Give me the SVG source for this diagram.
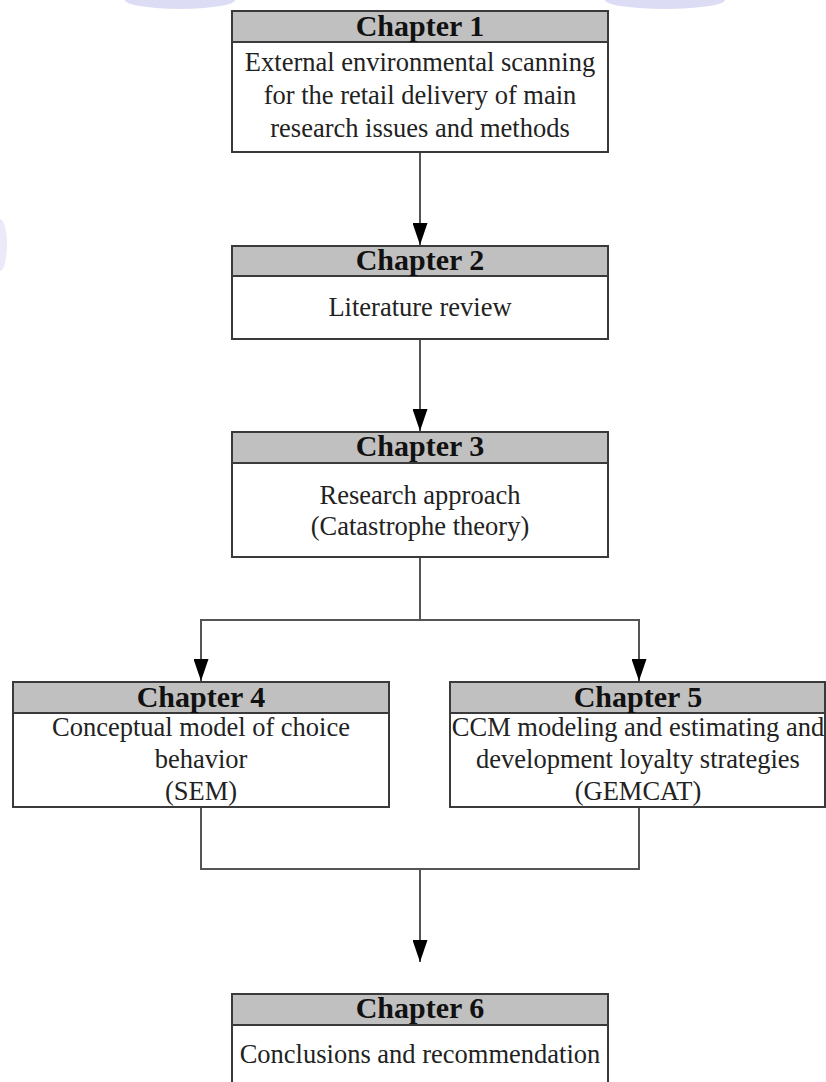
<svg xmlns="http://www.w3.org/2000/svg" width="826" height="1082" viewBox="0 0 826 1082">
  <style>
    .box { fill: #ffffff; stroke: #3a3a3a; stroke-width: 2; }
    .hdr { fill: #c0c0c0; stroke: #3a3a3a; stroke-width: 2; }
    .title { font-family: "Liberation Serif", "Times New Roman", serif; font-weight: bold; font-size: 30px; fill: #111111; text-anchor: middle; }
    .body { font-family: "Liberation Serif", "Times New Roman", serif; font-size: 26.5px; fill: #222222; text-anchor: middle; }
    .conn { fill: none; stroke: #555555; stroke-width: 2; }
    .wm { fill: #dcdcf4; }
  </style>
  <defs>
    <marker id="arrow" viewBox="0 0 22 15" refX="22" refY="7.5" markerWidth="22" markerHeight="15" markerUnits="userSpaceOnUse" orient="auto">
      <path d="M0,0 L22,7.5 L0,15 Z" fill="#000000"/>
    </marker>
  </defs>
  <rect width="826" height="1082" fill="#ffffff"/>
  <g id="watermark">
    <ellipse class="wm" cx="180" cy="0" rx="55" ry="9"/>
    <ellipse class="wm" cx="665" cy="0" rx="60" ry="9"/>
    <ellipse class="wm" cx="0" cy="245" rx="7" ry="26" opacity="0.6"/>
  </g>
  <g id="connectors">
    <path class="conn" d="M420,152 V245" marker-end="url(#arrow)"/>
    <path class="conn" d="M420,339 V431" marker-end="url(#arrow)"/>
    <path class="conn" d="M420,557 V620"/>
    <path class="conn" d="M420,620 H201 V681" marker-end="url(#arrow)"/>
    <path class="conn" d="M420,620 H639 V681" marker-end="url(#arrow)"/>
    <path class="conn" d="M201,807 V869 H639 V807"/>
    <path class="conn" d="M420,869 V962" marker-end="url(#arrow)"/>
  </g>
  <g id="chapter1">
    <rect class="box" x="232" y="11" width="376" height="141"/>
    <rect class="hdr" x="232" y="11" width="376" height="31"/>
    <text class="title" x="420" y="36">Chapter 1</text>
    <text class="body" x="420" y="71">External environmental scanning</text>
    <text class="body" x="420" y="104">for the retail delivery of main</text>
    <text class="body" x="420" y="137">research issues and methods</text>
  </g>
  <g id="chapter2">
    <rect class="box" x="232" y="246" width="376" height="93"/>
    <rect class="hdr" x="232" y="246" width="376" height="30"/>
    <text class="title" x="420" y="270">Chapter 2</text>
    <text class="body" x="420" y="316">Literature review</text>
  </g>
  <g id="chapter3">
    <rect class="box" x="232" y="432" width="376" height="125"/>
    <rect class="hdr" x="232" y="432" width="376" height="31"/>
    <text class="title" x="420" y="456">Chapter 3</text>
    <text class="body" x="420" y="504">Research approach</text>
    <text class="body" x="420" y="535">(Catastrophe theory)</text>
  </g>
  <g id="chapter4">
    <rect class="box" x="13" y="682" width="376" height="125"/>
    <rect class="hdr" x="13" y="682" width="376" height="31"/>
    <text class="title" x="201" y="707">Chapter 4</text>
    <text class="body" x="201" y="736">Conceptual model of choice</text>
    <text class="body" x="201" y="768">behavior</text>
    <text class="body" x="201" y="800">(SEM)</text>
  </g>
  <g id="chapter5">
    <rect class="box" x="450" y="682" width="375" height="125"/>
    <rect class="hdr" x="450" y="682" width="375" height="31"/>
    <text class="title" x="638" y="707">Chapter 5</text>
    <text class="body" x="638" y="736">CCM modeling and estimating and</text>
    <text class="body" x="638" y="768">development loyalty strategies</text>
    <text class="body" x="638" y="800">(GEMCAT)</text>
  </g>
  <g id="chapter6">
    <rect class="box" x="232" y="994" width="376" height="100"/>
    <rect class="hdr" x="232" y="994" width="376" height="31"/>
    <text class="title" x="420" y="1018">Chapter 6</text>
    <text class="body" x="420" y="1063">Conclusions and recommendation</text>
  </g>
</svg>
